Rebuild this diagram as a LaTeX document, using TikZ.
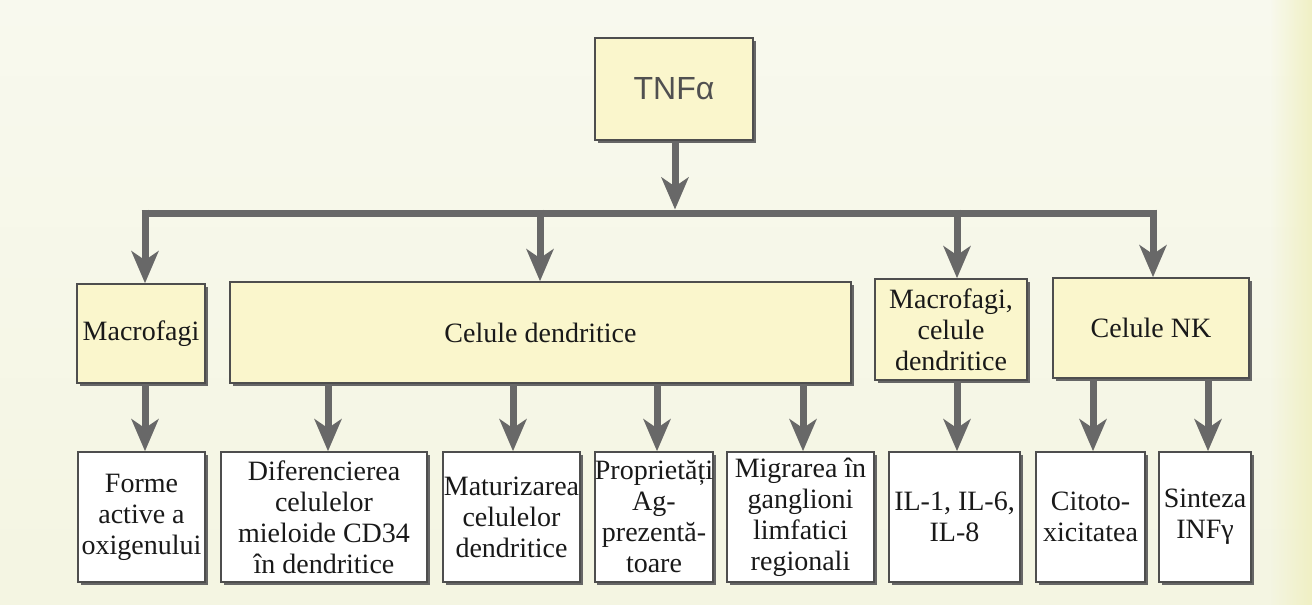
\documentclass[tikz,border=0pt]{standalone}
\usepackage{fontspec}
\setmainfont{Liberation Serif}
\newfontfamily\headfont{Liberation Sans}
\usetikzlibrary{arrows.meta,shadows,fadings}

\definecolor{paper}{RGB}{244,245,226}
\definecolor{papertop}{RGB}{248,249,238}
\definecolor{paperedge}{RGB}{240,240,196}
\definecolor{boxyellow}{RGB}{250,246,204}
\definecolor{edgegray}{RGB}{78,78,78}
\definecolor{arrowgray}{RGB}{104,104,104}
\definecolor{inkgray}{RGB}{80,80,80}

\begin{document}
\begin{tikzpicture}[x=1pt,y=-1pt,
  box/.style={draw=edgegray, line width=1.6pt, inner xsep=0pt, inner ysep=2pt,
    align=center, text=black!90, font=\fontsize{28}{31}\selectfont,
    drop shadow={shadow xshift=2.5pt, shadow yshift=-2.5pt, fill=black!60, opacity=1}},
  ybox/.style={box, fill=boxyellow},
  wbox/.style={box, fill=white, minimum height=130},
  link/.style={draw=arrowgray, line width=7pt,
    -{Stealth[length=32pt, width=27pt, inset=9pt]}},
  rail/.style={draw=arrowgray, line width=7pt, line cap=butt}]

% paper
\useasboundingbox (0,0) rectangle (1312,605);
\shade[top color=papertop, bottom color=paper] (0,0) rectangle (1312,605);
\fill[paperedge, path fading=west] (1270,0) rectangle (1312,605);

% source
\node[ybox, minimum width=158, minimum height=102,
  font=\headfont\fontsize{32}{36}\selectfont, text=inkgray] (tnf) at (674,89) {TNFα};

% cell types
\node[ybox, minimum width=128, minimum height=99] (mac) at (141,333.5) {Macrofagi};
\node[ybox, minimum width=621, minimum height=101] (cd) at (540.5,332.5) {Celule dendritice};
\node[ybox, minimum width=152, minimum height=101] (mcd) at (951,329.5) {Macrofagi,\\celule\\dendritice};
\node[ybox, minimum width=196, minimum height=100] (nk) at (1151,328) {Celule NK};

% effects
\node[wbox, minimum width=127] (forme) at (141.5,517) {Forme\\active a\\oxigenului};
\node[wbox, minimum width=206] (dif) at (324,517) {Diferencierea\\celulelor\\mieloide CD34\\în dendritice};
\node[wbox, minimum width=137] (mat) at (511.5,517) {Maturizarea\\celulelor\\dendritice};
\node[wbox, minimum width=116] (prop) at (654,517) {Proprietăți\\Ag-\\prezentă-\\toare};
\node[wbox, minimum width=147] (mig) at (800.5,517) {Migrarea în\\ganglioni\\limfatici\\regionali};
\node[wbox, minimum width=131] (il) at (954.5,517) {IL-1, IL-6,\\IL-8};
\node[wbox, minimum width=109] (cit) at (1090.5,517) {Citoto-\\xicitatea};
\node[wbox, minimum width=92] (sin) at (1205,517) {Sinteza\\INFγ};

% distribution rail
\coordinate (railL) at (145,213);
\coordinate (railR) at (1153,213);
\coordinate (hub) at (675,213);
\coordinate (railD) at (540,213);
\coordinate (railM) at (957,213);
\draw[rail] ([xshift=-3.5pt]railL) -- ([xshift=3.5pt]railR);
\draw[link] (tnf.south -| hub) -- ([yshift=3.5pt]hub);

% rail to cell types
\draw[link] ([yshift=3.5pt]railL) -- (railL |- mac.north);
\draw[link] ([yshift=3.5pt]railD) -- (railD |- cd.north);
\draw[link] ([yshift=3.5pt]railM) -- (railM |- mcd.north);
\draw[link] ([yshift=3.5pt]railR) -- (railR |- nk.north);

% cell types to effects
\draw[link] (mac.south -| railL) -- (railL |- forme.north);
\draw[link] ([xshift=4pt]cd.south -| dif.north) -- ([xshift=4pt]dif.north);
\draw[link] ([xshift=1.5pt]cd.south -| mat.north) -- ([xshift=1.5pt]mat.north);
\draw[link] ([xshift=3pt]cd.south -| prop.north) -- ([xshift=3pt]prop.north);
\draw[link] ([xshift=2.5pt]cd.south -| mig.north) -- ([xshift=2.5pt]mig.north);
\draw[link] (mcd.south -| railM) -- (railM |- il.north);
\draw[link] ([xshift=2.5pt]nk.south -| cit.north) -- ([xshift=2.5pt]cit.north);
\draw[link] ([xshift=3pt]nk.south -| sin.north) -- ([xshift=3pt]sin.north);
\end{tikzpicture}
\end{document}
